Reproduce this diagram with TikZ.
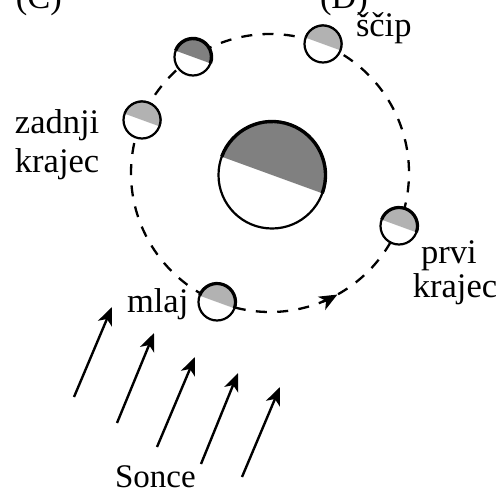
\documentclass[tikz,border=0pt]{standalone}
\usepackage{fontspec}
\setmainfont{Liberation Serif}
\usetikzlibrary{arrows.meta}
\definecolor{darkside}{gray}{0.5}
\definecolor{lightside}{gray}{0.70}
\tikzset{
  x=1pt,y=1pt,
  label text/.style={inner sep=0pt,outer sep=0pt,font=\fontsize{34.5}{38}\selectfont},
  orbit line/.style={line width=2.3pt,dash pattern=on 11pt off 10.3pt},
  ray/.style={line width=2.4pt,-{Stealth[length=18pt,width=15pt,inset=5pt]}},
  body/.style={circle,draw,fill=white,line width=2.2pt,inner sep=0pt,outer sep=0pt},
  moon/.style={body,minimum size=37pt},
  earth/.style={body,minimum size=107pt},
}
% A body with its sunlit half shaded; the tilt follows the direction of the rays.
\newcommand{\shadedhalf}[4]{%
  \fill[#2] (#1.center) ++(-20:#3pt) arc[start angle=-20,end angle=160,radius=#3pt] -- cycle;
  \draw[line width=#4pt] (#1.center) ++(-20:#3pt) arc[start angle=-20,end angle=160,radius=#3pt];
}
\begin{document}
\begin{tikzpicture}
\useasboundingbox (0,0) rectangle (501,-490);
\clip (0,0) rectangle (501,-490);

% orbit of the Moon
\coordinate (orbitcentre) at (270,-173);
\draw[orbit line] (orbitcentre) ++(-95.8:139pt) arc[start angle=-95.8,delta angle=360,radius=139pt];
\draw[line width=2.3pt,-{Stealth[length=18pt,width=15pt,inset=5pt]}] (orbitcentre) ++(-68:139pt) arc[start angle=-68,end angle=-61,radius=139pt];

% Earth
\node[earth] (zemlja) at (272,-175) {};
\shadedhalf{zemlja}{darkside}{53.5}{3.4}

% Moon positions
\node[moon] (mlaj) at (217,-302) {};
\shadedhalf{mlaj}{lightside}{18.5}{3.2}
\node[moon] (prvi) at (399,-226) {};
\shadedhalf{prvi}{lightside}{18.5}{3.2}
\node[moon] (scip) at (323,-44) {};
\shadedhalf{scip}{lightside}{18.5}{2.2}
\node[moon] (temni) at (193,-57) {};
\shadedhalf{temni}{darkside}{18.5}{3.4}
\node[moon] (zadnji) at (142,-120) {};
\shadedhalf{zadnji}{lightside}{18.5}{2.2}

% sunlight
\coordinate (r1a) at (74,-397);  \coordinate (r1b) at (112,-307);
\coordinate (r2a) at (117,-423); \coordinate (r2b) at (154,-333);
\coordinate (r3a) at (157,-447); \coordinate (r3b) at (195,-357);
\coordinate (r4a) at (201,-464); \coordinate (r4b) at (238,-373);
\coordinate (r5a) at (242,-477); \coordinate (r5b) at (280,-387);
\draw[ray] (r1a) -- (r1b);
\draw[ray] (r2a) -- (r2b);
\draw[ray] (r3a) -- (r3b);
\draw[ray] (r4a) -- (r4b);
\draw[ray] (r5a) -- (r5b);

% labels
\node[label text,anchor=base west] (lc) at (16,-8) {(C)};
\node[label text,anchor=base west] (ld) at (320,-8) {(D)};
\node[label text,anchor=base west] (lscip) at (356,-36) {ščip};
\node[label text,anchor=base west] (lz1) at (15,-133) {zadnji};
\node[label text,anchor=base west] (lz2) at (15,-172) {krajec};
\node[label text,anchor=base] (lp1) at (449,-263) {prvi};
\node[label text,anchor=base] (lp2) at (455,-297) {krajec};
\node[label text,anchor=base west] (lmlaj) at (127,-312) {mlaj};
\node[label text,anchor=base west,font=\fontsize{33}{38}\selectfont] (lsonce) at (115,-487) {Sonce};
\end{tikzpicture}
\end{document}
